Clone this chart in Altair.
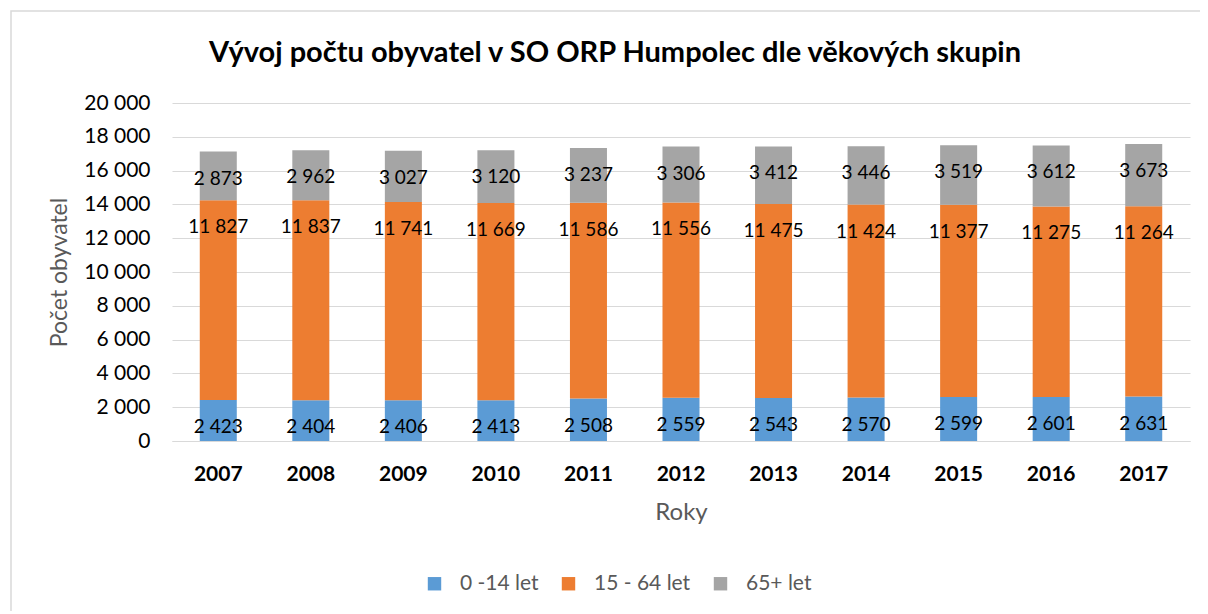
import altair as alt
import pandas as pd

years = ["2007", "2008", "2009", "2010", "2011", "2012", "2013", "2014", "2015", "2016", "2017"]
kids = [2423, 2404, 2406, 2413, 2508, 2559, 2543, 2570, 2599, 2601, 2631]
adults = [11827, 11837, 11741, 11669, 11586, 11556, 11475, 11424, 11377, 11275, 11264]
seniors = [2873, 2962, 3027, 3120, 3237, 3306, 3412, 3446, 3519, 3612, 3673]
series = ["0 -14 let", "15 - 64 let", "65+ let"]
colors = ["#5B9BD5", "#ED7D31", "#A5A5A5"]
ticks = list(range(0, 20001, 2000))

rows = []
for i, y in enumerate(years):
    for k, (name, vals) in enumerate(zip(series, [kids, adults, seniors])):
        rows.append({"rok": y, "skupina": name, "poradi": k, "hodnota": vals[i]})
df = pd.DataFrame(rows)

FONT = "Lato"

x_axis = alt.Axis(title="Roky", labelAngle=0, labelFontWeight="bold",
                  labelFontSize=21, labelColor="#000000", labelPadding=22,
                  ticks=False, domainColor="#D9D9D9", titleFontSize=24,
                  titleColor="#595959", titleFontWeight="normal", titlePadding=16)
y_axis = alt.Axis(title="Počet obyvatel", values=ticks, tickCount=30,
                  labelOverlap=False,
                  labelExpr="replace(format(datum.value, ','), ',', ' ')",
                  labelFontSize=21, labelColor="#000000", labelPadding=22,
                  ticks=False, domain=False, gridColor="#D9D9D9",
                  titleFontSize=23, titleColor="#595959",
                  titleFontWeight="normal", titlePadding=12)
x_scale = alt.Scale(paddingInner=0.6, paddingOuter=0.3)
y_scale = alt.Scale(domain=[0, 20000])

base = alt.Chart(df).transform_stack(
    stack="hodnota", groupby=["rok"], as_=["v0", "v1"],
    sort=[alt.SortField("poradi", order="ascending")]
)

bars = base.mark_bar().encode(
    x=alt.X("rok:N", sort=years, scale=x_scale, axis=x_axis),
    y=alt.Y("v0:Q", scale=y_scale, axis=y_axis),
    y2="v1:Q",
    color=alt.Color("skupina:N", sort=series,
                    scale=alt.Scale(domain=series, range=colors),
                    legend=alt.Legend(title=None, orient="none", direction="horizontal",
                                      legendX=252, legendY=470, symbolType="square",
                                      symbolSize=180, symbolStrokeWidth=0,
                                      labelFontSize=21, labelColor="#595959",
                                      labelOffset=15, columnPadding=19)),
)

labels = base.transform_calculate(
    txt="replace(format(datum.hodnota, ','), ',', ' ')"
).mark_text(baseline="middle", align="center", dy=27, fontSize=19, color="#000000").encode(
    x=alt.X("rok:N", sort=years, scale=x_scale, axis=x_axis),
    y=alt.Y("v1:Q", scale=y_scale, axis=y_axis),
    text="txt:N",
)

border = alt.Chart(pd.DataFrame({"a": [0]})).mark_rect(
    fill=None, stroke="#D9D9D9", strokeWidth=1.5, clip=False
).encode(
    x=alt.value(-161), x2=alt.value(1030),
    y=alt.value(-92), y2=alt.value(540),
)

chart = alt.layer(border, bars, labels).properties(
    width=1018, height=338,
    autosize=alt.AutoSizeParams(type="none"),
    padding={"left": 164, "top": 95, "right": 10, "bottom": 170},
    title=alt.TitleParams("Vývoj počtu obyvatel v SO ORP Humpolec dle věkových skupin",
                          fontSize=29, fontWeight="bold", color="#000000",
                          anchor="middle", frame="group", offset=0, dy=58, dx=-66),
).configure(font=FONT).configure_view(stroke=None)

chart.save("out.html", embed_options={"renderer": "svg", "actions": False})
